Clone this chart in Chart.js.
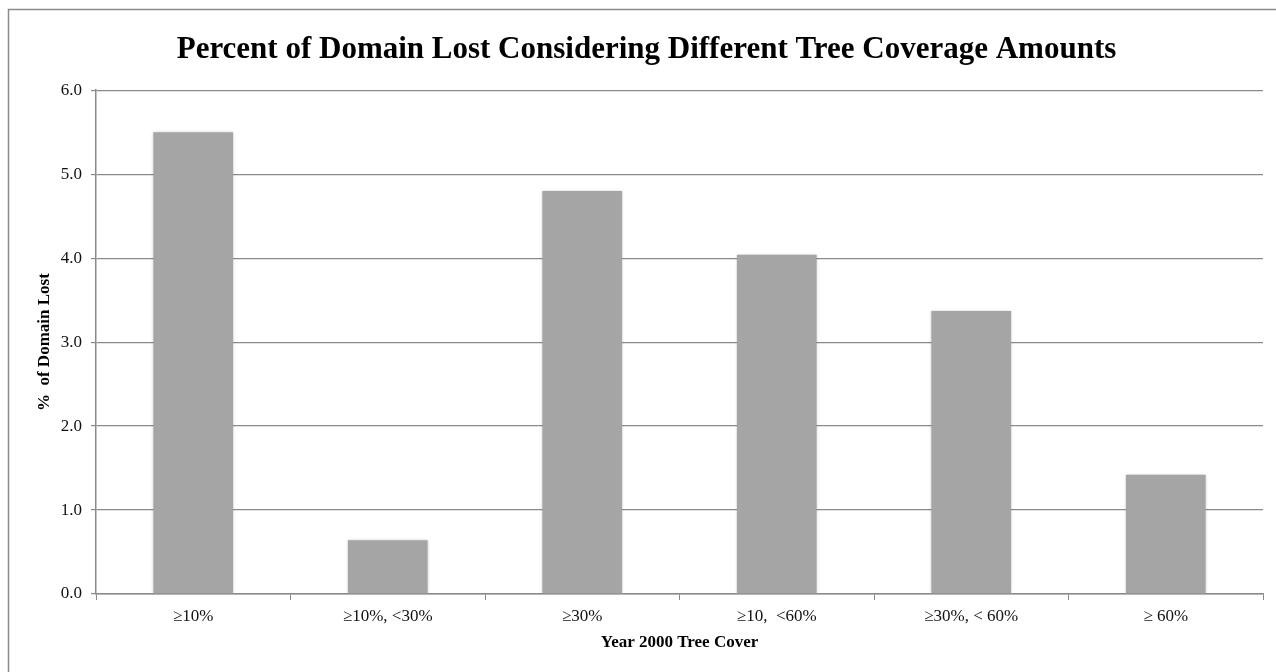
<!DOCTYPE html>
<html>
<head>
<meta charset="utf-8">
<script src="https://cdn.jsdelivr.net/npm/chart.js@4.4.1/dist/chart.umd.min.js"></script>
<style>
  html, body { margin: 0; padding: 0; background: #fff; }
  #wrap { width: 1276px; height: 672px; }
</style>
</head>
<body>
<div id="wrap"><canvas id="lossChart" width="1276" height="672"></canvas></div>
<script>
// Datos
const coverCategories = ['\u226510%', '\u226510%, <30%', '\u226530%', '\u226510,  <60%', '\u226530%, < 60%', '\u2265 60%'];
const domainLost = [5.5, 0.64, 4.8, 4.04, 3.37, 1.42];
const yTicks = [0, 1, 2, 3, 4, 5, 6];

const serif = "'Liberation Serif', 'Times New Roman', Times, serif";

// Fondo blanco y marco gris exterior
const framePlugin = {
    id: 'frame',
    beforeDraw(chart) {
        const c = chart.ctx;
        c.save();
        c.fillStyle = '#fff';
        c.fillRect(0, 0, chart.width, chart.height);
        c.strokeStyle = '#8a8a8a';
        c.lineWidth = 1.5;
        c.strokeRect(8.5, 9.5, chart.width + 10, chart.height + 10);
        c.restore();
    }
};

// Sombra suave de las barras
const barShadow = {
    id: 'barShadow',
    beforeDatasetsDraw(chart) {
        const c = chart.ctx;
        c.save();
        c.shadowColor = 'rgba(0,0,0,0.25)';
        c.shadowBlur = 3;
    },
    afterDatasetsDraw(chart) {
        chart.ctx.restore();
    }
};

const ctx = document.getElementById('lossChart').getContext('2d');
new Chart(ctx, {
    type: 'bar',
    data: {
        labels: coverCategories,
        datasets: [{
            label: '% of Domain Lost',
            data: domainLost,
            backgroundColor: '#a5a5a5',
            borderWidth: 0,
            categoryPercentage: 1.0,
            barPercentage: 0.41
        }]
    },
    options: {
        responsive: false,
        animation: false,
        layout: {
            padding: { top: 0, right: 13, bottom: 14, left: 30 }
        },
        plugins: {
            legend: { display: false },
            tooltip: { enabled: false },
            title: {
                display: true,
                text: 'Percent of Domain Lost Considering Different Tree Coverage Amounts',
                color: '#000',
                font: { family: serif, size: 31, weight: 'bold', lineHeight: 1.2 },
                padding: { top: 31, bottom: 22 }
            }
        },
        scales: {
            x: {
                grid: {
                    drawOnChartArea: false,
                    drawTicks: true,
                    tickLength: 6,
                    color: '#8a8a8a'
                },
                border: { color: '#8a8a8a', width: 1.5 },
                ticks: {
                    color: '#111',
                    font: { family: serif, size: 17 },
                    padding: 6,
                    maxRotation: 0
                },
                title: {
                    display: true,
                    text: 'Year 2000 Tree Cover',
                    color: '#000',
                    font: { family: serif, size: 17, weight: 'bold' },
                    padding: { top: 2, bottom: 5 }
                },
                afterFit(scale) { scale.height = 64; }
            },
            y: {
                min: 0,
                max: 6,
                afterBuildTicks(scale) {
                    scale.ticks = yTicks.map(v => ({ value: v }));
                },
                grid: {
                    color: '#8a8a8a',
                    lineWidth: 1.2,
                    drawTicks: true,
                    tickLength: 5
                },
                border: { color: '#8a8a8a', width: 1.5 },
                ticks: {
                    color: '#111',
                    font: { family: serif, size: 17 },
                    padding: 9,
                    callback: v => Number(v).toFixed(1)
                },
                title: {
                    display: true,
                    text: '%  of Domain Lost',
                    color: '#000',
                    font: { family: serif, size: 17, weight: 'bold' },
                    padding: { top: 4, bottom: 0 }
                },
                afterFit(scale) { scale.width = 66; }
            }
        }
    },
    plugins: [framePlugin, barShadow]
});
</script>
</body>
</html>
